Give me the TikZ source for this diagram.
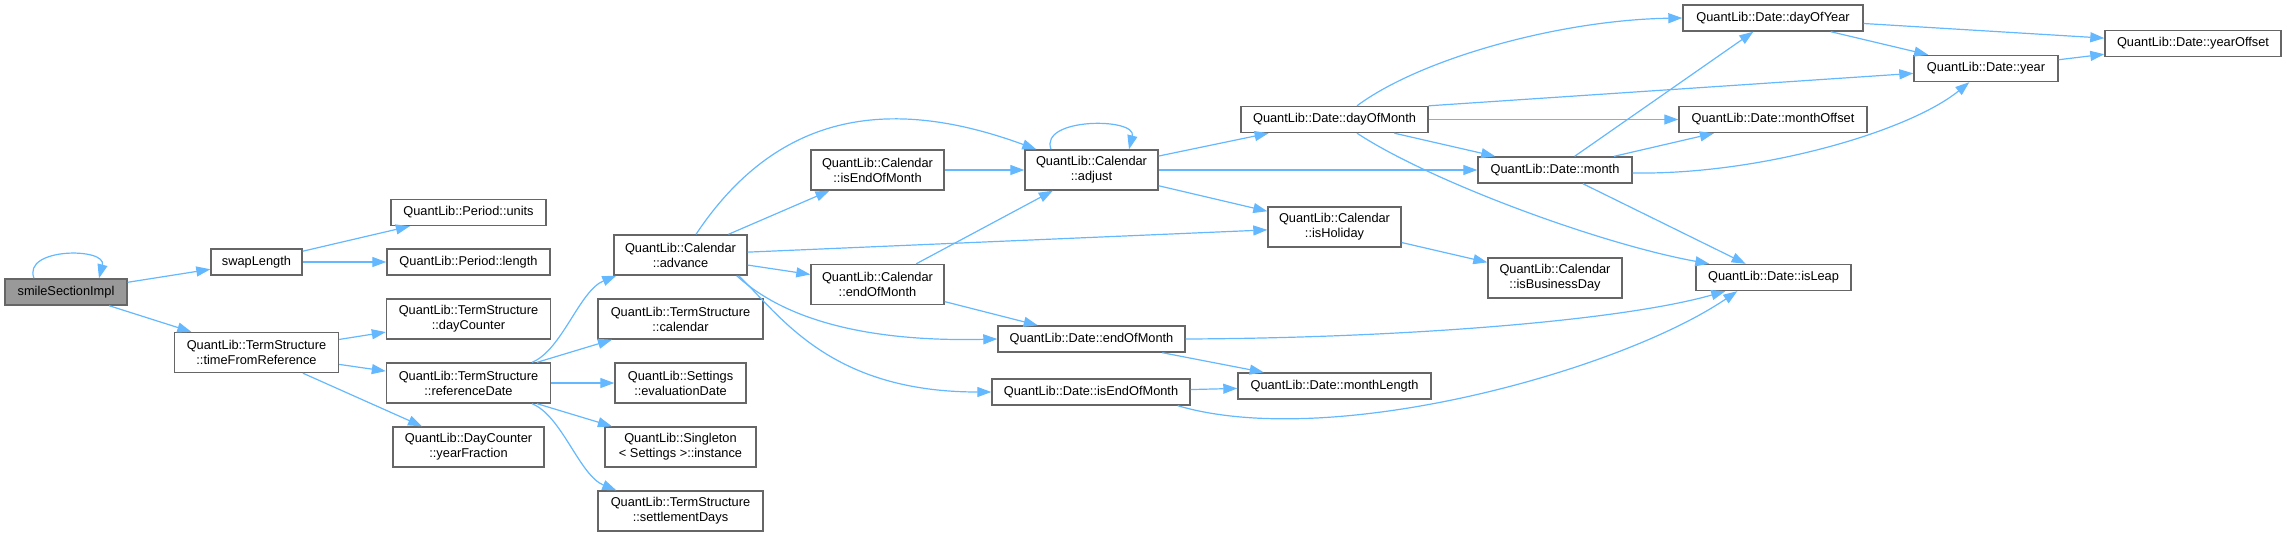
\documentclass[tikz,border=0pt]{standalone}
\usepackage{fontspec}
\setmainfont{Liberation Sans}
\usetikzlibrary{arrows.meta,calc}
\definecolor{cgblue}{HTML}{63B8FF}
\definecolor{cgframe}{HTML}{666666}
\definecolor{cgrootfill}{HTML}{999999}

\begin{document}
\begin{tikzpicture}[x=0.5pt,y=-0.5pt,
    cgbox/.style={draw=cgframe,fill=white,line width=0.7pt,align=center,
        font=\fontsize{6.4pt}{7.5pt}\selectfont,inner sep=0pt,minimum height=13pt},
    cgtwo/.style={cgbox,minimum height=20pt},
    cgroot/.style={cgbox,fill=cgrootfill},
    cgedge/.style={-{Triangle[length=7pt,width=5pt]},draw=cgblue,line width=0.6pt}
]
\useasboundingbox (0,0) rectangle (2287,537);
\node[cgroot,minimum width=61pt] (smile) at (66,292) {smileSectionImpl};
\node[cgbox,minimum width=45.5pt] (swapLen) at (256.5,262) {swapLength};
\node[cgbox,minimum width=77.5pt] (perUnits) at (468.5,212.5) {QuantLib::Period::units};
\node[cgbox,minimum width=81.5pt] (perLength) at (468.5,262) {QuantLib::Period::length};
\node[cgtwo,minimum width=82pt] (tsTimeFromRef) at (256.5,352.5)
    {QuantLib::TermStructure\\::timeFromReference};
\node[cgtwo,minimum width=82pt] (tsDayCounter) at (468.5,319)
    {QuantLib::TermStructure\\::dayCounter};
\node[cgtwo,minimum width=82pt] (tsRefDate) at (468.5,383)
    {QuantLib::TermStructure\\::referenceDate};
\node[cgtwo,minimum width=75.5pt] (dcYearFraction) at (468.5,447)
    {QuantLib::DayCounter\\::yearFraction};
\node[cgtwo,minimum width=66.5pt] (calAdvance) at (680.5,255)
    {QuantLib::Calendar\\::advance};
\node[cgtwo,minimum width=82.5pt] (tsCalendar) at (680.5,319)
    {QuantLib::TermStructure\\::calendar};
\node[cgtwo,minimum width=65.5pt] (setEvalDate) at (680.5,383)
    {QuantLib::Settings\\::evaluationDate};
\node[cgtwo,minimum width=75.5pt] (sgInstance) at (680.5,447)
    {QuantLib::Singleton\\< Settings >::instance};
\node[cgtwo,minimum width=82.5pt] (tsSettleDays) at (680.5,511)
    {QuantLib::TermStructure\\::settlementDays};
\node[cgtwo,minimum width=66.5pt] (calIsEom) at (877.5,170)
    {QuantLib::Calendar\\::isEndOfMonth};
\node[cgtwo,minimum width=66.5pt] (calEom) at (877.5,284.5)
    {QuantLib::Calendar\\::endOfMonth};
\node[cgtwo,minimum width=66.5pt] (calAdjust) at (1091.5,170)
    {QuantLib::Calendar\\::adjust};
\node[cgbox,minimum width=93.5pt] (dtEom) at (1091.5,339) {QuantLib::Date::endOfMonth};
\node[cgbox,minimum width=99pt] (dtIsEom) at (1091,392) {QuantLib::Date::isEndOfMonth};
\node[cgbox,minimum width=93.5pt] (dtDayOfMonth) at (1334.5,119.5) {QuantLib::Date::dayOfMonth};
\node[cgtwo,minimum width=66.5pt] (calIsHoliday) at (1334.5,227)
    {QuantLib::Calendar\\::isHoliday};
\node[cgbox,minimum width=96.5pt] (dtMonthLength) at (1334.5,386) {QuantLib::Date::monthLength};
\node[cgbox,minimum width=77pt] (dtMonth) at (1555,170) {QuantLib::Date::month};
\node[cgtwo,minimum width=67pt] (calIsBizDay) at (1555,278)
    {QuantLib::Calendar\\::isBusinessDay};
\node[cgbox,minimum width=90pt] (dtDayOfYear) at (1773,18) {QuantLib::Date::dayOfYear};
\node[cgbox,minimum width=94pt] (dtMonthOffset) at (1773,119.5) {QuantLib::Date::monthOffset};
\node[cgbox,minimum width=77.5pt] (dtIsLeap) at (1773.5,277.5) {QuantLib::Date::isLeap};
\node[cgbox,minimum width=72pt] (dtYear) at (1986,68.5) {QuantLib::Date::year};
\node[cgbox,minimum width=88pt] (dtYearOffset) at (2193,43.5) {QuantLib::Date::yearOffset};
\draw[cgedge] ($(smile.north)+(-32,0)$) .. controls +(-12,-31) and +(8,-31) .. ($(smile.north)+(33,0)$);
\draw[cgedge] (smile)--(swapLen);
\draw[cgedge] (smile)--(tsTimeFromRef);
\draw[cgedge] (swapLen)--(perUnits);
\draw[cgedge] (swapLen)--(perLength);
\draw[cgedge] (tsTimeFromRef)--(tsDayCounter);
\draw[cgedge] (tsTimeFromRef)--(tsRefDate);
\draw[cgedge] (tsTimeFromRef)--(dcYearFraction);
\draw[cgedge] ($(tsRefDate.north)+(63.5,0)$) .. controls +(30,-12) and +(-37,15) .. ($(calAdvance.south west)+(3,0)$);
\draw[cgedge] (tsRefDate)--(tsCalendar);
\draw[cgedge] (tsRefDate)--(setEvalDate);
\draw[cgedge] (tsRefDate)--(sgInstance);
\draw[cgedge] ($(tsRefDate.south)+(63.5,0)$) .. controls +(30,12) and +(-37,-15) .. ($(tsSettleDays.north west)+(19,0)$);
\draw[cgedge] ($(calAdvance.north)+(15.5,0)$) .. controls +(80,-120) and +(-150,-55) .. ($(calAdjust.north west)+(12,0)$);
\draw[cgedge] (calAdvance)--(calIsEom);
\draw[cgedge] (calAdvance)--(calIsHoliday);
\draw[cgedge] (calAdvance)--(calEom);
\draw[cgedge] ($(calAdvance.south east)+(-11,0)$) .. controls +(49,45) and +(-128,3) .. (dtEom.west);
\draw[cgedge] ($(calAdvance.south east)+(-9,0)$) .. controls +(42,40) and +(-162,0) .. (dtIsEom.west);
\draw[cgedge] (calIsEom)--(calAdjust);
\draw[cgedge] ($(calAdjust.north)+(-40.5,0)$) .. controls +(-12,-32) and +(8,-32) .. ($(calAdjust.north)+(37.5,0)$);
\draw[cgedge] (calEom)--(calAdjust);
\draw[cgedge] (calEom)--(dtEom);
\draw[cgedge] (calAdjust)--(dtDayOfMonth);
\draw[cgedge] (calAdjust)--(dtMonth);
\draw[cgedge] (calAdjust)--(calIsHoliday);
\draw[cgedge] (calIsHoliday)--(calIsBizDay);
\draw[cgedge] ($(dtDayOfMonth.north)+(22.5,0)$) .. controls +(63,-47) and +(-123,2) .. (dtDayOfYear.west);
\draw[cgedge] (dtDayOfMonth.north east)--(dtYear);
\draw[cgedge] (dtDayOfMonth)--(dtMonthOffset);
\draw[cgedge] (dtDayOfMonth)--(dtMonth);
\draw[cgedge] ($(dtDayOfMonth.south)+(22.5,0)$) .. controls +(73,48) and +(-110,-20) .. ($(dtIsLeap.north west)+(14,0)$);
\draw[cgedge] (dtMonth)--(dtDayOfYear);
\draw[cgedge] (dtMonth)--(dtMonthOffset);
\draw[cgedge] ($(dtMonth.east)+(0,3)$) .. controls +(128,2) and +(-60,49) .. ($(dtYear.south west)+(56,0)$);
\draw[cgedge] (dtMonth)--(dtIsLeap);
\draw[cgedge] (dtEom.east) .. controls +(215,-1) and +(-106,30) .. ($(dtIsLeap.south west)+(30,0)$);
\draw[cgedge] (dtEom)--(dtMonthLength);
\draw[cgedge] (dtIsEom)--(dtMonthLength);
\draw[cgedge] ($(dtIsEom.south east)+(-13,0)$) .. controls +(153,45) and +(-118,80) .. ($(dtIsLeap.south west)+(42,0)$);
\draw[cgedge] (dtDayOfYear)--(dtYearOffset);
\draw[cgedge] (dtDayOfYear)--(dtYear);
\draw[cgedge] (dtYear)--(dtYearOffset);
\end{tikzpicture}
\end{document}
